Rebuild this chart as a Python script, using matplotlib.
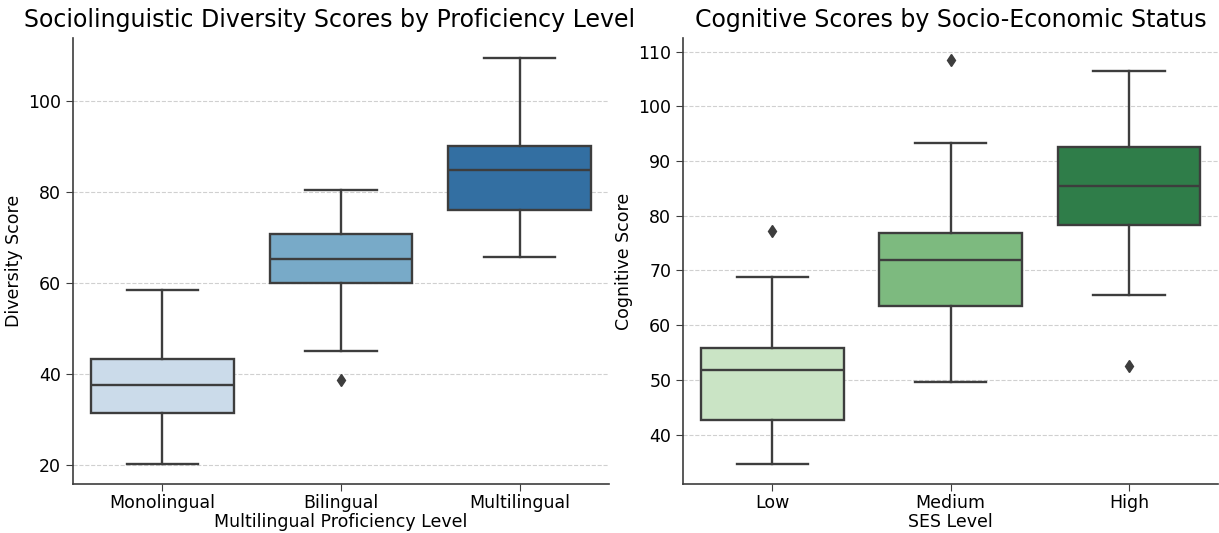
import matplotlib.pyplot as plt
import seaborn as sns

# Diversity scores by proficiency level
prof_levels = ['Monolingual', 'Bilingual', 'Multilingual']
div_whislo = [20.2, 45.0, 65.8]
div_q1 = [31.4, 60.0, 76.0]
div_med = [37.6, 65.4, 85.0]
div_q3 = [43.3, 70.9, 90.1]
div_whishi = [58.5, 80.6, 109.6]
div_fliers = [[], [38.6], []]

# Cognitive scores by SES level
ses_levels = ['Low', 'Medium', 'High']
cog_whislo = [34.7, 49.7, 65.5]
cog_q1 = [42.6, 63.5, 78.3]
cog_med = [51.8, 71.9, 85.4]
cog_q3 = [55.9, 76.8, 92.5]
cog_whishi = [68.9, 93.2, 106.4]
cog_fliers = [[77.2], [108.4], [52.5]]

LINE = '#3d3d3d'


def build_stats(labels, whislo, q1, med, q3, whishi, fliers):
    stats = []
    for i, lab in enumerate(labels):
        stats.append({'label': lab, 'whislo': whislo[i], 'q1': q1[i], 'med': med[i],
                      'q3': q3[i], 'whishi': whishi[i], 'fliers': fliers[i]})
    return stats


def draw_box(ax, stats, colors, title, xlabel, ylabel, ylim, title_x=0.5):
    bp = ax.bxp(stats, positions=range(len(stats)), widths=0.8, patch_artist=True,
                boxprops=dict(edgecolor=LINE, linewidth=1.7),
                medianprops=dict(color=LINE, linewidth=1.7),
                whiskerprops=dict(color=LINE, linewidth=1.7),
                capprops=dict(color=LINE, linewidth=1.7),
                flierprops=dict(marker='d', markerfacecolor=LINE, markeredgecolor=LINE,
                                markersize=6))
    for patch, c in zip(bp['boxes'], colors):
        patch.set_facecolor(c)
    # caps are half the box width, like seaborn
    for cap in bp['caps']:
        x0, x1 = cap.get_xdata()
        mid = (x0 + x1) / 2
        cap.set_xdata([mid - 0.2, mid + 0.2])
    ax.set_xlim(-0.5, len(stats) - 0.5)
    ax.set_ylim(*ylim)
    ax.set_title(title, fontsize=17, pad=8, x=title_x)
    ax.set_xlabel(xlabel, fontsize=12.5, labelpad=1)
    ax.set_ylabel(ylabel, fontsize=12.5, labelpad=4)
    ax.tick_params(labelsize=12.5, color=LINE, length=5)
    ax.tick_params(axis='x', pad=2)
    ax.yaxis.grid(True, linestyle='--', color='#d0d0d0', linewidth=0.8)
    ax.set_axisbelow(True)
    for s in ['top', 'right']:
        ax.spines[s].set_visible(False)
    for s in ['left', 'bottom']:
        ax.spines[s].set_color(LINE)
        ax.spines[s].set_linewidth(1.2)


blues = [sns.desaturate(c, 0.75) for c in sns.color_palette('Blues', 3)]
greens = [sns.desaturate(c, 0.75) for c in sns.color_palette('Greens', 3)]

fig = plt.figure(figsize=(12.19, 5.33), dpi=100)
ax1 = fig.add_axes([0.0599, 0.092, 0.4397, 0.837])
ax2 = fig.add_axes([0.5603, 0.092, 0.4389, 0.837])

draw_box(ax1, build_stats(prof_levels, div_whislo, div_q1, div_med, div_q3, div_whishi, div_fliers),
         blues, 'Sociolinguistic Diversity Scores by Proficiency Level',
         'Multilingual Proficiency Level', 'Diversity Score', (15.8, 114.0), title_x=0.478)
ax1.set_yticks([20, 40, 60, 80, 100])

draw_box(ax2, build_stats(ses_levels, cog_whislo, cog_q1, cog_med, cog_q3, cog_whishi, cog_fliers),
         greens, 'Cognitive Scores by Socio-Economic Status',
         'SES Level', 'Cognitive Score', (31.0, 112.5))
ax2.set_yticks([40, 50, 60, 70, 80, 90, 100, 110])

fig.savefig('out.png', dpi=100)
